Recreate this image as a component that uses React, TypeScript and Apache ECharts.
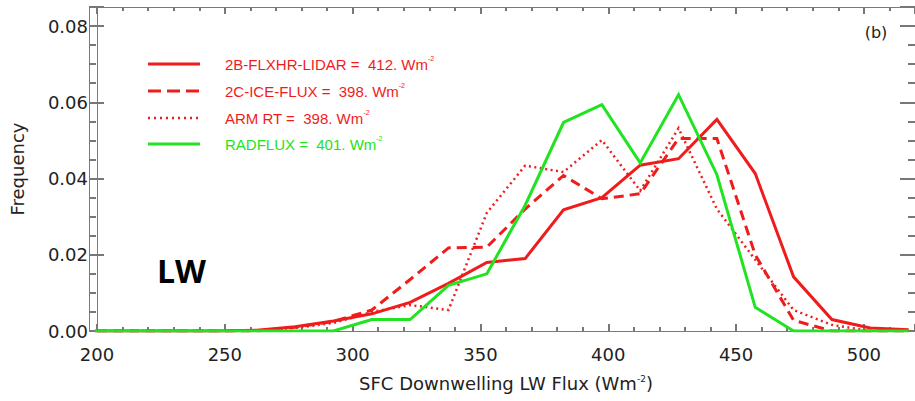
import React, { useEffect, useRef } from "react";
import * as echarts from "echarts";

// Bin centres (W m-2)
const binCenters = [187.5, 202.5, 217.5, 232.5, 247.5, 262.5, 277.5, 292.5, 307.5, 322.5, 337.5, 352.5, 367.5, 382.5, 397.5, 412.5, 427.5, 442.5, 457.5, 472.5, 487.5, 502.5, 517.5];

const lidar = [0, 0, 0, 0, 0, 0.0002, 0.0011, 0.0026, 0.0045, 0.0075, 0.0125, 0.018, 0.019, 0.0318, 0.035, 0.0435, 0.0452, 0.0555, 0.0413, 0.0142, 0.003, 0.0008, 0.0003];
const iceFlux = [0, 0, 0, 0, 0, 0, 0.001, 0.0025, 0.0055, 0.0135, 0.0218, 0.022, 0.032, 0.0408, 0.0347, 0.036, 0.0505, 0.0505, 0.02, 0.0028, 0, 0, 0];
const armRt = [0, 0, 0, 0, 0, 0, 0.0008, 0.0021, 0.005, 0.0068, 0.0055, 0.031, 0.0434, 0.0417, 0.0501, 0.0368, 0.0532, 0.032, 0.0187, 0.0055, 0.0016, 0, 0];
const radflux = [0, 0, 0, 0, 0, 0, 0, 0, 0.003, 0.003, 0.012, 0.015, 0.033, 0.0547, 0.0594, 0.0441, 0.062, 0.041, 0.0062, 0, 0, 0, 0];

const legendNames = ["2B-FLXHR-LIDAR", "2C-ICE-FLUX", "ARM RT", "RADFLUX"];
const legendMeans = ["412.", "398.", "398.", "401."];
const yTickLabels = ["0.00", "0.02", "0.04", "0.06", "0.08"];

const RED = "#f01c1c";
const GREEN = "#22e322";

const seriesStyles = [
  { color: RED, type: "solid" as any, width: 3 },
  { color: RED, type: [10, 6] as any, width: 3 },
  { color: RED, type: [2, 3.5] as any, width: 2.5 },
  { color: GREEN, type: "solid" as any, width: 3 },
];
const legendDash: (number[] | null)[] = [null, [13, 6], [2, 4], null];

const seriesValues = [lidar, iceFlux, armRt, radflux];

const GRID_LEFT = 97;
const GRID_RIGHT = -8;
const CHART_W = 915;
const CHART_H = 401;

export default function App() {
  const ref = useRef<HTMLDivElement>(null);
  useEffect(() => {
    if (!ref.current) return;
    const chart = echarts.init(ref.current, null, { renderer: "svg" });
    const axisColor = "#7a7a7a";
    const tickColor = "#777777";
    const labelColor = "#222";
    const font = "DejaVu Sans";
    const gridW = CHART_W - GRID_LEFT - GRID_RIGHT;

    const graphics: any[] = [];
    const rowY = [64, 91, 118, 144];
    legendNames.forEach((n, i) => {
      const st = seriesStyles[i];
      graphics.push({
        type: "line",
        shape: { x1: 148, y1: rowY[i], x2: 200, y2: rowY[i] },
        style: {
          stroke: st.color,
          lineWidth: i === 2 ? 2.5 : 3,
          lineDash: legendDash[i] || undefined,
        },
        silent: true,
      });
      graphics.push({
        type: "text",
        x: 225,
        y: rowY[i],
        style: {
          text: `{t|${n} =\u00a0\u00a0${legendMeans[i]} Wm}{s|-2}`,
          verticalAlign: "middle",
          rich: {
            t: { fill: st.color, fontSize: 15, fontFamily: "Liberation Sans", lineHeight: 18 },
            s: { fill: st.color, fontSize: 7, fontFamily: "Liberation Sans", verticalAlign: "top", lineHeight: 18 },
          },
        },
        silent: true,
      });
    });
    graphics.push({
      type: "text",
      x: 876,
      y: 32,
      style: { text: "(b)", fill: labelColor, font: `16px "${font}"`, textAlign: "center", verticalAlign: "middle" },
    });
    graphics.push({
      type: "text",
      x: 157,
      y: 270,
      style: { text: "LW", fill: "#000", font: `bold 32px "Open Sans"`, textAlign: "left", verticalAlign: "middle" },
    });
    graphics.push({
      type: "text",
      x: 17,
      y: 169,
      rotation: Math.PI / 2,
      style: { text: "Frequency", fill: labelColor, font: `18px "${font}"`, textAlign: "center", verticalAlign: "middle" },
    });

    const tickStyle = { color: tickColor, width: 2 };

    const xCommon = {
      type: "value",
      min: 200,
      max: 520,
      interval: 50,
      axisLine: { show: true, onZero: false, lineStyle: { color: axisColor, width: 1 } },
      axisTick: { show: true, inside: true, length: 7, lineStyle: tickStyle },
      minorTick: { show: true, splitNumber: 5, length: 4, lineStyle: tickStyle },
      splitLine: { show: false },
    };
    const yCommon = {
      type: "value",
      min: 0,
      max: 0.085,
      interval: 0.02,
      axisLine: { show: true, onZero: false, lineStyle: { color: axisColor, width: 1 } },
      axisTick: { show: true, inside: true, length: 15, lineStyle: tickStyle },
      minorTick: { show: true, splitNumber: 4, length: 7, lineStyle: tickStyle },
      splitLine: { show: false },
    };

    chart.setOption({
      animation: false,
      backgroundColor: "#fff",
      grid: { left: GRID_LEFT, right: GRID_RIGHT, top: 7, bottom: 70, containLabel: false },
      xAxis: [
        {
          ...xCommon,
          position: "bottom",
          name: "SFC Downwelling LW Flux (Wm{s|-2})",
          nameLocation: "middle",
          nameGap: 43,
          nameTextStyle: {
            color: labelColor,
            fontSize: 18,
            fontFamily: font,
            rich: { s: { fontSize: 9, fontFamily: font, color: labelColor, verticalAlign: "top" } },
          },
          axisLabel: {
            color: labelColor,
            fontSize: 18,
            fontFamily: font,
            margin: 14,
            showMaxLabel: false,
          },
        },
        {
          ...xCommon,
          position: "top",
          axisLabel: { show: false },
        },
      ],
      yAxis: [
        {
          ...yCommon,
          position: "right",
          axisLabel: { show: false },
        },
        {
          ...yCommon,
          position: "left",
          axisTick: { show: false },
          minorTick: { show: false },
          axisLabel: {
            color: labelColor,
            fontSize: 18,
            fontFamily: font,
            margin: 9,
            formatter: (v: number) => (v > 0.081 ? "" : yTickLabels[Math.round(v / 0.02)] ?? ""),
          },
        },
        {
          // tick marks of the left frame edge (a right-positioned axis moved onto the left edge)
          ...yCommon,
          position: "right",
          offset: -gridW,
          axisTick: { show: true, inside: false, length: 15, lineStyle: tickStyle },
          minorTick: { show: true, splitNumber: 4, length: 7, lineStyle: tickStyle },
          axisLabel: { show: false },
        },
      ],
      series: [2, 1, 0, 3].map((i) => ({
        type: "line",
        name: legendNames[i],
        xAxisIndex: 0,
        yAxisIndex: 0,
        data: binCenters.map((x, k) => [x, seriesValues[i][k]]),
        showSymbol: false,
        symbol: "none",
        clip: true,
        lineStyle: { color: seriesStyles[i].color, type: seriesStyles[i].type, width: seriesStyles[i].width, cap: "butt", join: "miter" },
        z: i === 3 ? 4 : 3,
      })),
      graphic: graphics,
    });
    return () => chart.dispose();
  }, []);
  return <div ref={ref} style={{ position: "absolute", left: 0, top: 0, width: CHART_W, height: CHART_H }} />;
}
